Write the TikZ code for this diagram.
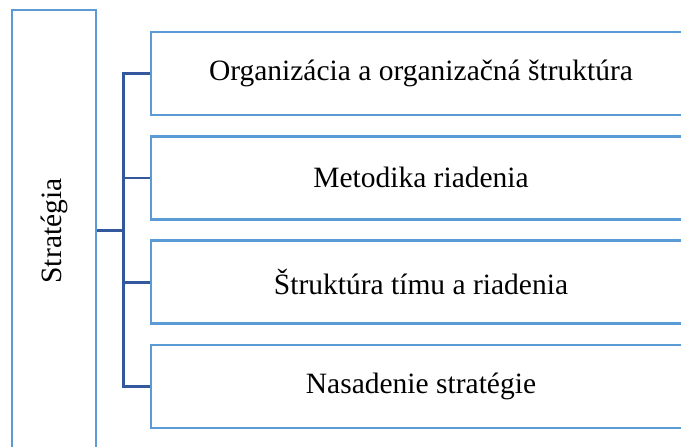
\documentclass[tikz,border=0pt]{standalone}
\usepackage{fontspec}
\usepackage{graphicx}
\setmainfont{Liberation Serif}
\definecolor{boxblue}{RGB}{91,155,213}
\definecolor{lineblue}{RGB}{52,88,158}
\tikzset{
  box/.style={draw=boxblue, line width=2.6pt, rectangle, inner sep=0pt,
    font=\fontsize{29.5}{35}\selectfont},
  part/.style={box, minimum width=540pt, minimum height=83pt},
  link/.style={draw=lineblue, line width=2.6pt}
}
\begin{document}
\begin{tikzpicture}[x=1pt,y=-1pt]
  \useasboundingbox (0,0) rectangle (681,447);
  \draw
    (54,231) node[box, minimum width=84pt, minimum height=442pt] (s) {\rotatebox{90}{Stratégia}}
    (421,73.5) node[part] (0) {Organizácia a organizačná štruktúra}
    (421,177.8) node[part] (1) {Metodika riadenia}
    (421,282.2) node[part] (2) {Štruktúra tímu a riadenia}
    (421,386.6) node[part] (3) {Nasadenie stratégie};
  \coordinate (j) at (123.5,230.3);
  \begin{scope}[link]
    \draw (0.west) -| (j) |- (3.west);
    \draw (1.west) -- (1.west -| j);
    \draw (2.west) -- (2.west -| j);
    \draw (s.east |- j) -- (j);
  \end{scope}
\end{tikzpicture}
\end{document}
